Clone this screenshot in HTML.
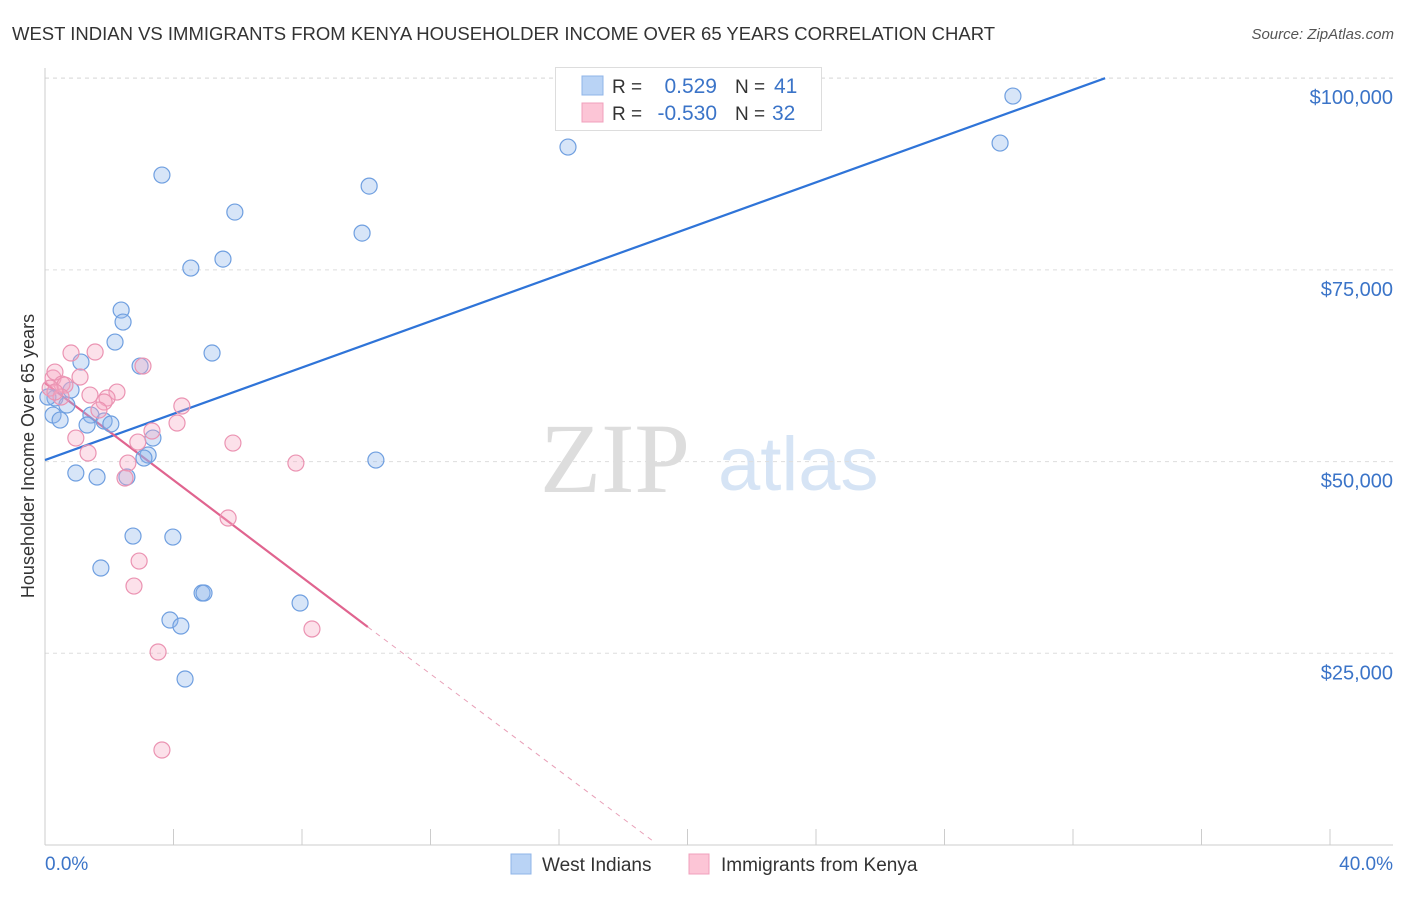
<!DOCTYPE html>
<html><head><meta charset="utf-8"><style>
body{margin:0;background:#fff;font-family:"Liberation Sans",sans-serif;}
</style></head><body>
<svg id="chart" width="1406" height="892" xmlns="http://www.w3.org/2000/svg" font-family="Liberation Sans, sans-serif">
<text x="12" y="40" font-size="18.5" fill="#333">WEST INDIAN VS IMMIGRANTS FROM KENYA HOUSEHOLDER INCOME OVER 65 YEARS CORRELATION CHART</text>
<text x="1394" y="39" font-size="15" fill="#555" font-style="italic" text-anchor="end">Source: ZipAtlas.com</text>
<g>
<text x="690" y="492" font-size="100" fill="#ddd" text-anchor="end" style="font-family:'Liberation Serif',serif">ZIP</text>
<text x="718" y="490" font-size="76" fill="#d6e4f5">atlas</text>
</g>
<g id="grid"></g><g id="axes"></g><g id="lines"></g><g id="pts"></g>
<text transform="translate(34,456) rotate(-90)" font-size="18" fill="#333" text-anchor="middle">Householder Income Over 65 years</text>
<g>
<rect x="555.5" y="67.5" width="266" height="63" fill="#fff" stroke="#ddd"/>
<rect x="582" y="76" width="21" height="19" fill="#b9d3f5" stroke="#8fb4e8"/>
<rect x="582" y="103" width="21" height="19" fill="#fcc5d6" stroke="#f0a0bc"/>
<text x="612" y="93" font-size="19" fill="#333">R =</text><text x="717" y="93" font-size="21" fill="#3b74c8" text-anchor="end">0.529</text>
<text x="735" y="93" font-size="19" fill="#333">N =</text><text x="774" y="93" font-size="21" fill="#3b74c8">41</text>
<text x="612" y="120" font-size="19" fill="#333">R =</text><text x="717" y="120" font-size="21" fill="#3b74c8" text-anchor="end">-0.530</text>
<text x="735" y="120" font-size="19" fill="#333">N =</text><text x="772" y="120" font-size="21" fill="#3b74c8">32</text>
</g>
<g>
<rect x="511" y="854" width="20" height="20" fill="#b9d3f5" stroke="#8fb4e8"/>
<text x="542" y="871" font-size="19" fill="#333">West Indians</text>
<rect x="689" y="854" width="20" height="20" fill="#fcc5d6" stroke="#f0a0bc"/>
<text x="721" y="871" font-size="19" fill="#333">Immigrants from Kenya</text>
</g>
<text x="45" y="870" font-size="19" fill="#3b74c8">0.0%</text>
<text x="1393" y="870" font-size="19" fill="#3b74c8" text-anchor="end">40.0%</text>
</svg>
<script>
const yTicks=[25000,50000,75000,100000];
const yTickLabels=["$25,000","$50,000","$75,000","$100,000"];
const xTicks=[0,4,8,12,16,20,24,28,32,36,40];
const blueX=[30.13,29.73,16.28,3.64,10.09,5.91,9.87,5.54,4.54,2.37,2.43,2.18,5.20,1.12,2.96,0.81,0.31,0.68,1.43,0.25,0.47,1.84,2.05,1.31,3.36,3.21,3.08,10.30,0.96,1.62,2.55,2.74,3.98,1.74,4.89,4.95,7.94,3.89,4.23,4.36,0.09];
const blueY=[97670,91540,91020,87370,85930,82540,79800,76410,75240,69760,68200,65590,64160,62980,62460,59330,58290,57380,56070,56070,55420,55290,54900,54770,53070,50860,50460,50200,48510,47990,47990,40290,40160,36120,32860,32860,31560,29340,28560,21650,58420];
const pinkX=[0.25,0.31,0.81,1.56,1.09,0.53,0.62,0.16,3.05,1.40,2.24,1.93,1.84,1.68,0.50,4.26,4.11,3.33,0.96,2.89,5.85,1.34,2.58,7.81,2.49,5.70,2.93,2.77,8.31,3.52,3.64,0.31];
const pinkY=[60900,61680,64160,64290,61030,60110,59980,59590,62460,58680,59070,58290,57770,56720,58420,57250,55030,53990,53070,52550,52420,51120,49810,49810,47860,42640,37030,33770,28170,25170,12390,59070];
const blueTrend=[[0,50200],[33.0,100000]];
const pinkTrend=[[0,60250],[10.05,28430]];
const pinkDash=[[10.05,28430],[18.9,600]];
const X=v=>45+v*32.125, Y=v=>845-v*0.007668;
const NS="http://www.w3.org/2000/svg";
function mk(t,a,p){const e=document.createElementNS(NS,t);for(const k in a)e.setAttribute(k,a[k]);p.appendChild(e);return e;}
const grid=document.getElementById('grid'),axes=document.getElementById('axes'),lines=document.getElementById('lines'),pts=document.getElementById('pts');
mk('line',{x1:45,y1:78,x2:1393,y2:78,stroke:'#ddd','stroke-dasharray':'4,4'},grid);
yTicks.forEach((v,i)=>{
 const l=mk('line',{x1:45,y1:Y(v),x2:1393,y2:Y(v),stroke:'#ddd','stroke-dasharray':'4,4'},grid);
 
 
 const t=mk('text',{x:1393,y:Y(v)+26,'font-size':20,fill:'#3b74c8','text-anchor':'end'},axes);
 t.textContent=yTickLabels[i];
 
 
});
mk('line',{x1:45,y1:68,x2:45,y2:845,stroke:'#ccc'},axes);
mk('line',{x1:45,y1:845,x2:1393,y2:845,stroke:'#ccc'},axes);
xTicks.forEach(v=>{
 const t=mk('line',{x1:X(v),y1:829,x2:X(v),y2:845,stroke:'#ccc'},axes);
 
 
});
function seg(s,c,extra,name){const l=mk('line',Object.assign({x1:X(s[0][0]),y1:Y(s[0][1]),x2:X(s[1][0]),y2:Y(s[1][1]),stroke:c},extra),lines);
 
 }
seg(blueTrend,'#2f74d8',{'stroke-width':2.2},'blue-trend-line');
seg(pinkTrend,'#e0648f',{'stroke-width':2.2},'pink-trend-line');
seg(pinkDash,'#e8a0b8',{'stroke-width':1,'stroke-dasharray':'5,5'},'pink-trend-extension');
blueX.forEach((x,i)=>{const c=mk('circle',{cx:X(x),cy:Y(blueY[i]),r:8,fill:'rgba(140,180,235,0.35)',stroke:'#6f9fe0','stroke-width':1.2},pts);
 
 });
pinkX.forEach((x,i)=>{const c=mk('circle',{cx:X(x),cy:Y(pinkY[i]),r:8,fill:'rgba(245,170,195,0.35)',stroke:'#eb93b2','stroke-width':1.2},pts);
 
 });
</script>
</body></html>
